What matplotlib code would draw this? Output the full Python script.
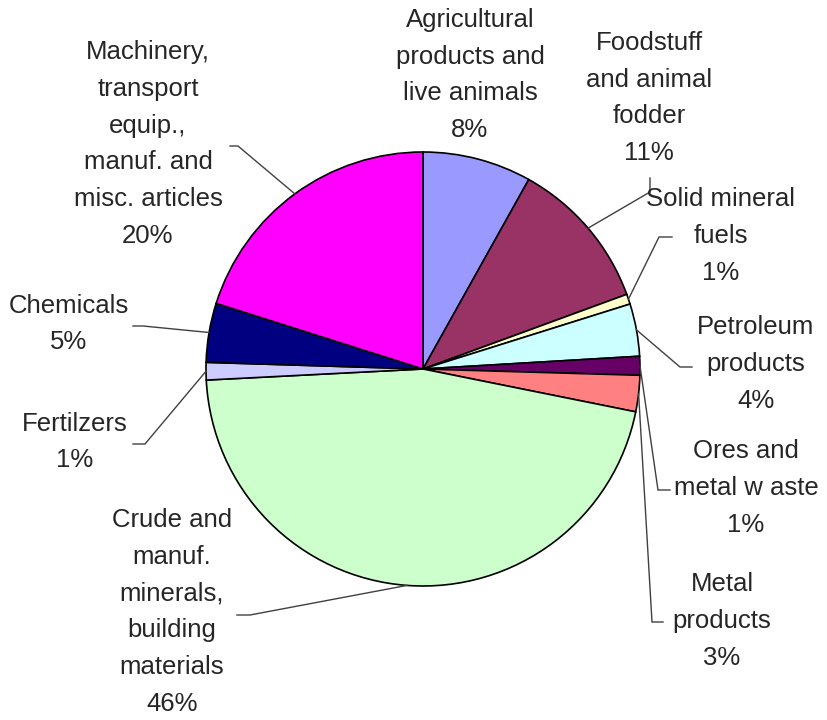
import numpy as np
import matplotlib.pyplot as plt

# shares (percent)
categories = ["Agricultural\nproducts and\nlive animals",
              "Foodstuff\nand animal\nfodder",
              "Solid mineral\nfuels",
              "Petroleum\nproducts",
              "Ores and\nmetal w aste",
              "Metal\nproducts",
              "Crude and\nmanuf.\nminerals,\nbuilding\nmaterials",
              "Fertilzers",
              "Chemicals",
              "Machinery,\ntransport\nequip.,\nmanuf. and\nmisc. articles"]
shares = [8.1, 11.3, 0.75, 3.9, 1.4, 2.7, 46.0, 1.3, 4.4, 20.1]
pct_shown = [8, 11, 1, 4, 1, 3, 46, 1, 5, 20]

colors = ['#9999FF', '#993366', '#FFFFCC', '#CCFFFF', '#660066',
          '#FF8080', '#CCFFCC', '#CCCCFF', '#000080', '#FF00FF']

W, H = 828, 720


def py(y):
    # picture rows -> axes y
    return H - y


# label layout: text centre, leader elbow, leader end (picture pixels)
label_pos = [(470, 75), (649, 98), (721, 236), (756, 364), (746, 488),
             (722, 621), (172, 612), (75, 442), (69, 324), (148, 144)]
leaders = [None,
           ((650, 192), (650, 178)),
           ((659, 237), (672, 237)),
           ((680, 367), (692, 367)),
           ((658, 490), (670, 490)),
           ((652, 622), (663, 622)),
           ((250, 615), (237, 615)),
           ((145, 444), (133, 444)),
           ((143, 326), (133, 326)),
           ((238, 146), (230, 146))]

fig = plt.figure(figsize=(W / 100, H / 100), dpi=100)
ax = fig.add_axes([0, 0, 1, 1])

cx, cy, r = 423, py(369), 217
wedges, _ = ax.pie(shares, colors=colors, startangle=90, counterclock=False,
                   center=(cx, cy), radius=r,
                   wedgeprops=dict(edgecolor='black', linewidth=1.2))

ax.set_xlim(0, W)
ax.set_ylim(0, H)
ax.set_aspect('equal')
ax.axis('off')

for i, wdg in enumerate(wedges):
    txt = "%s\n%d%%" % (categories[i], pct_shown[i])
    tx, ty = label_pos[i]
    ax.text(tx, py(ty), txt, ha='center', va='center', fontsize=18.5,
            family='Liberation Sans', color='#262626', linespacing=1.67,
            multialignment='center')
    if leaders[i] is None:
        continue
    mid = np.deg2rad((wdg.theta1 + wdg.theta2) / 2)
    sx, sy = cx + r * np.cos(mid), cy + r * np.sin(mid)
    (ex, ey), (fx, fy) = leaders[i]
    ax.plot([sx, ex, fx], [sy, py(ey), py(fy)], color='#404040', lw=1.0,
            solid_joinstyle='miter')

fig.savefig('out.png', dpi=100)
